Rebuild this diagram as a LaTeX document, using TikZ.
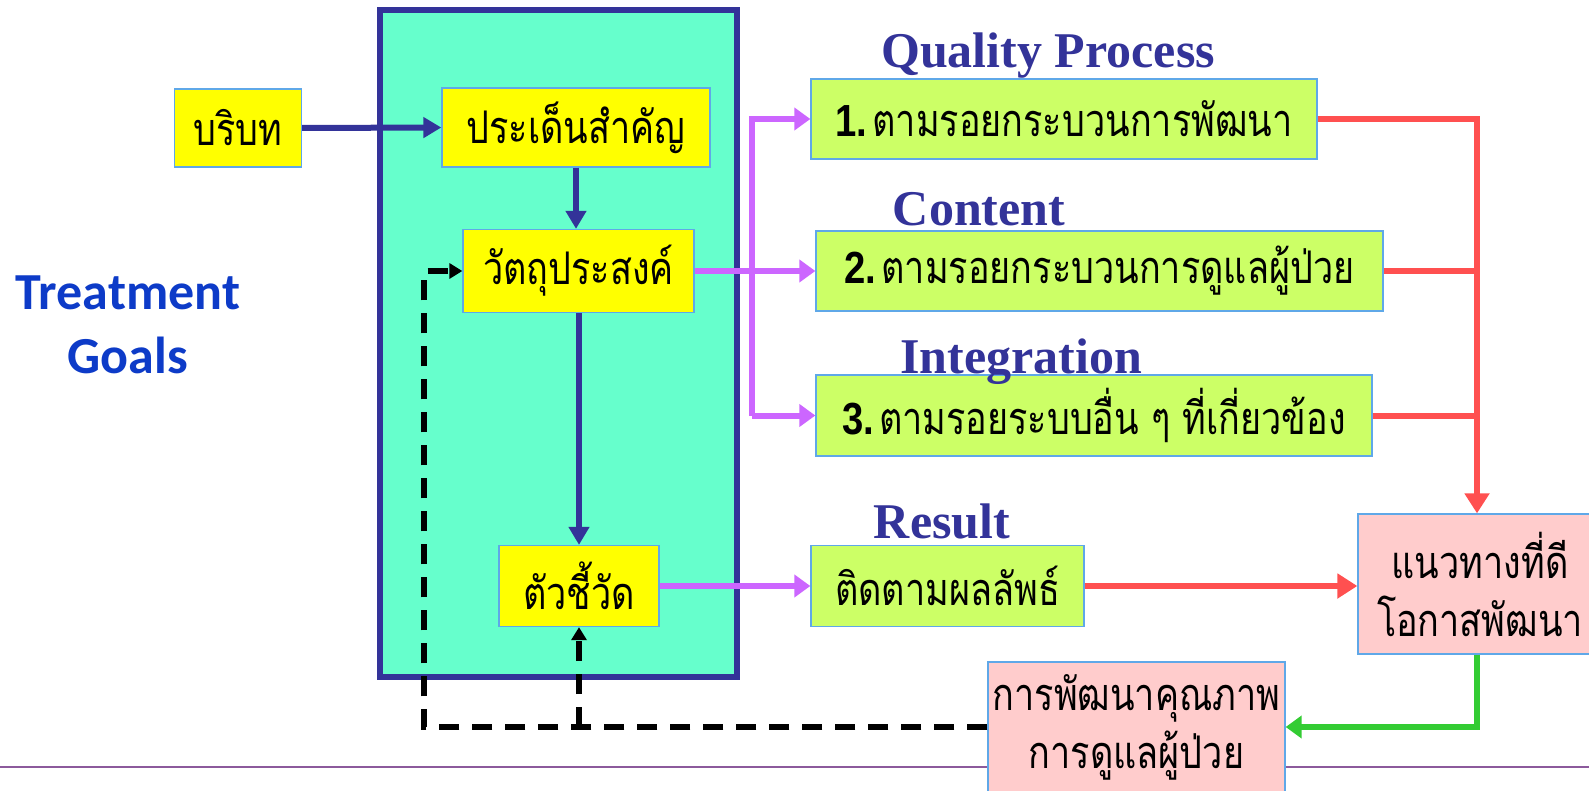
\documentclass[tikz,border=0pt]{standalone}
\usepackage{fontspec}
\newfontfamily\thai[Script=Thai,FakeStretch=0.8]{Loma}
\newfontfamily\labfont{Liberation Serif}
\newfontfamily\tgfont{Carlito}
\newfontfamily\numfont[FakeStretch=0.85]{Liberation Sans}
\usetikzlibrary{arrows.meta}
\definecolor{teal1}{HTML}{66FFCC}
\definecolor{navy1}{HTML}{333399}
\definecolor{yel}{HTML}{FFFF00}
\definecolor{bord}{HTML}{5FA8E8}
\definecolor{lgreen}{HTML}{CCFF66}
\definecolor{pink1}{HTML}{FFCCCC}
\definecolor{purp}{HTML}{CC66FF}
\definecolor{red1}{HTML}{FF5050}
\definecolor{grn1}{HTML}{33CC33}
\definecolor{tgblue}{HTML}{0D3BC8}
\definecolor{rule1}{HTML}{8C5A9C}
\tikzset{
  box/.style={draw=bord, line width=1.3pt, inner sep=0pt, font=\thai\fontsize{45}{50}\selectfont},
  ybox/.style={box, fill=yel},
  gbox/.style={box, fill=lgreen},
  pbox/.style={box, fill=pink1, align=center, font=\thai\fontsize{45}{58}\selectfont},
  lab/.style={font=\labfont\bfseries\fontsize{50}{56}\selectfont, text=navy1, anchor=base},
  navyA/.style={draw=navy1, line width=6pt, -{Triangle[length=18pt,width=20pt]}},
  purpA/.style={draw=purp, line width=6pt, -{Triangle[length=16pt,width=22pt]}},
  purpL/.style={draw=purp, line width=6pt},
  redA/.style={draw=red1, line width=6pt, -{Triangle[length=20pt,width=24pt]}},
  redL/.style={draw=red1, line width=6pt},
  grnA/.style={draw=grn1, line width=6pt, -{Triangle[length=16pt,width=22pt]}},
  dashA/.style={draw=black, line width=6pt, dash pattern=on 20pt off 13pt, -{Triangle[length=13pt,width=15pt]}},
}
\begin{document}
\begin{tikzpicture}[x=1pt,y=-1pt]
\useasboundingbox (0,0) rectangle (1589,791);
\fill[white] (0,0) rectangle (1589,791);
% bottom rule
\draw[rule1, line width=2.5pt] (0,767) -- (1589,767);
% treatment goals
\node[font=\tgfont\bfseries\fontsize{52}{64}\selectfont, text=tgblue, align=center] (tg) at (128,325) {Treatment\\Goals};
% frame
\node[draw=navy1, fill=teal1, line width=6pt, minimum width=357pt, minimum height=667pt, inner sep=0pt] (frame) at (558.5,343.5) {};
% yellow boxes
\node[ybox, minimum width=127pt, minimum height=78pt] (ctx) at (238,128) {บริบท};
\node[ybox, minimum width=268pt, minimum height=79pt] (iss) at (576,127.5) {ประเด็นสำคัญ};
\node[ybox, minimum width=231pt, minimum height=83pt] (obj) at (578.5,271) {วัตถุประสงค์};
\node[ybox, minimum width=160pt, minimum height=81pt] (ind) at (579,586) {ตัวชี้วัด};
% green boxes
\node[gbox, minimum width=506pt, minimum height=80pt] (b1) at (1064,119) {{\numfont\bfseries 1.}\hspace{5pt}ตามรอยกระบวนการพัฒนา};
\node[gbox, minimum width=567pt, minimum height=80pt] (b2) at (1099.5,271) {{\numfont\bfseries 2.}\hspace{5pt}ตามรอยกระบวนการดูแลผู้ป่วย};
\node[gbox, minimum width=556pt, minimum height=81pt] (b3) at (1094,415.5) {{\numfont\bfseries 3.}\hspace{5pt}ตามรอยระบบอื่น ๆ ที่เกี่ยวข้อง};
\node[gbox, minimum width=273pt, minimum height=81pt] (trk) at (947.5,586) {ติดตามผลลัพธ์};
% labels (drawn over box tops)
\node[lab] (lq) at (1048,68) {Quality Process};
\node[lab] (lc) at (979,226) {Content};
\node[lab] (li) at (1021,373) {Integration};
\node[lab] (lr) at (942,538) {Result};
% pink boxes
\node[pbox, minimum width=244pt, minimum height=140pt] (best) at (1480,584) {แนวทางที่ดี\\โอกาสพัฒนา};
\node[pbox, minimum width=297pt, minimum height=130pt] (qi) at (1136.5,727) {การพัฒนาคุณภาพ\\การดูแลผู้ป่วย};
% junction coordinates
\coordinate (pj) at (752,300);
\coordinate (rj) at (1477,300);
\coordinate (dj) at (424,500);
% navy arrows
\draw[navyA] (ctx.east) -- (iss.west);
\draw[navyA] (iss.south) -- (iss.south |- obj.north);
\draw[navyA] (obj.south -| ind.north) -- (ind.north);
% purple arrows
\draw[purpL] (obj.east) -- (pj |- obj.east);
\draw[purpA] (pj |- b3.west) |- (b1.west);
\draw[purpA] (pj |- b2.west) -- (b2.west);
\draw[purpA] (pj |- b3.west) -- (b3.west);
\draw[purpA] (ind.east) -- (trk.west);
% red arrows
\draw[redA] (b1.east) -| (rj |- best.north);
\draw[redL] (b2.east) -- (rj |- b2.east);
\draw[redL] (b3.east) -- (rj |- b3.east);
\draw[redA] (trk.east) -- (best.west |- trk.east);
% green arrow
\draw[grnA] (rj |- best.south) |- (qi.east);
% dashed feedback
\draw[dashA] (qi.west) -| (dj) |- (obj.west);
\draw[dashA] (ind.south |- qi.west) -- (ind.south);
\end{tikzpicture}
\end{document}
